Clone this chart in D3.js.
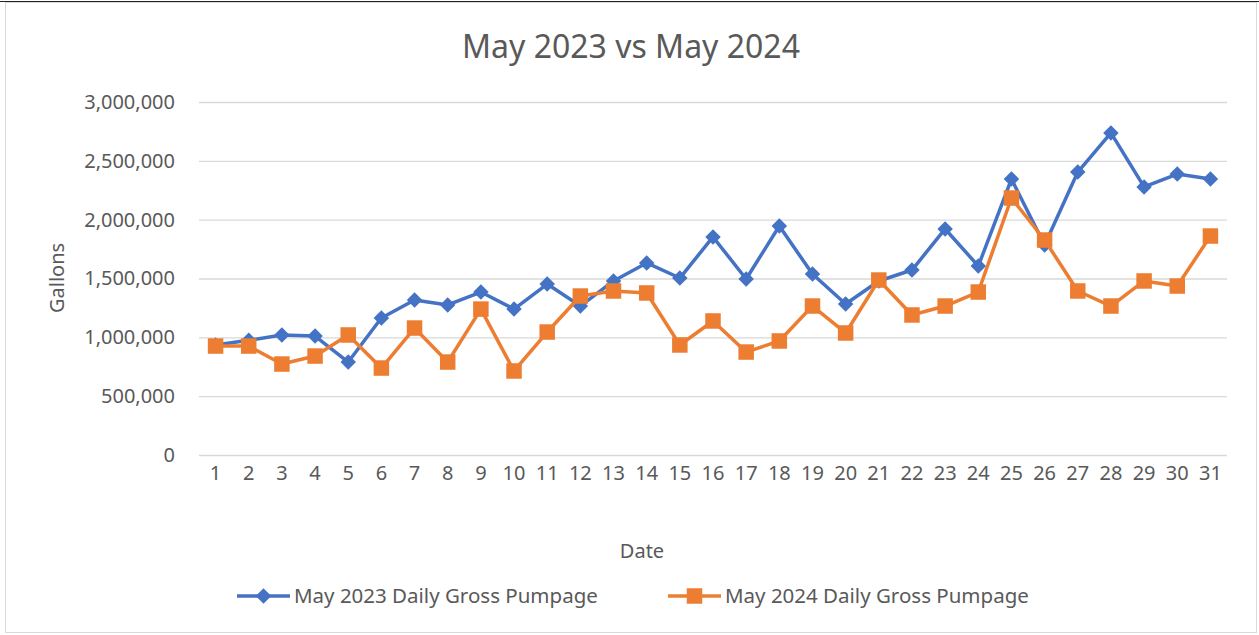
<!DOCTYPE html>
<html>
<head>
<meta charset="utf-8">
<script src="https://cdn.jsdelivr.net/npm/d3@7"></script>
<style>
  body { margin: 0; background: #fff; }
  text { font-family: "Noto Sans", "Open Sans", sans-serif; fill: #595959; }
</style>
</head>
<body>
<div id="chart"></div>
<script>
/* chart data */
var days = d3.range(1, 32);
var may2023 = [935000, 975000, 1020000, 1011000, 790000, 1164000, 1317000, 1275000, 1385000, 1240000,
  1453000, 1266000, 1479000, 1632000, 1504000, 1853000, 1496000, 1946000, 1538000, 1283000,
  1479000, 1572000, 1921000, 1606000, 2345000, 1785000, 2405000, 2737000, 2278000, 2388000, 2346000];
var may2024 = [926000, 926000, 773000, 841000, 1020000, 739000, 1079000, 790000, 1240000, 714000,
  1045000, 1351000, 1394000, 1377000, 935000, 1139000, 875000, 969000, 1266000, 1037000,
  1487000, 1190000, 1266000, 1385000, 2184000, 1827000, 1394000, 1266000, 1479000, 1436000, 1861000];
var yTicks = [0, 500000, 1000000, 1500000, 2000000, 2500000, 3000000];
var seriesNames = ["May 2023 Daily Gross Pumpage", "May 2024 Daily Gross Pumpage"];

var width = 1259, height = 635;
var plotLeft = 199, plotRight = 1227, plotTop = 102, plotBottom = 455;

var svg = d3.select("#chart").append("svg")
  .attr("width", width)
  .attr("height", height);

/* outer frame */
svg.append("rect")
  .attr("x", 5.5).attr("y", 2.5)
  .attr("width", width - 8).attr("height", height - 5)
  .attr("fill", "#fff")
  .attr("stroke", "#d9d9d9");
svg.append("line")
  .attr("x1", 0).attr("x2", width)
  .attr("y1", 1.5).attr("y2", 1.5)
  .attr("stroke", "#222");

/* scales */
var x = d3.scaleBand().domain(days).range([plotLeft, plotRight]);
var y = d3.scaleLinear().domain([0, 3000000]).range([plotBottom, plotTop]);

/* gridlines + y labels */
var yAxis = svg.append("g")
  .attr("transform", "translate(" + plotLeft + ",0)")
  .call(d3.axisLeft(y).tickValues(yTicks).tickSize(-(plotRight - plotLeft)).tickPadding(24)
    .tickFormat(d3.format(",")));
yAxis.select(".domain").remove();
yAxis.selectAll("line").attr("stroke", "#d9d9d9").attr("stroke-width", 1.3);
yAxis.selectAll("text").style("font-size", "20px").attr("fill", "#595959");

/* x labels */
var xAxis = svg.append("g")
  .attr("transform", "translate(0," + plotBottom + ")")
  .call(d3.axisBottom(x).tickSize(0).tickPadding(11));
xAxis.select(".domain").remove();
xAxis.selectAll("text").style("font-size", "20px").attr("fill", "#595959");

/* lines */
var line = d3.line()
  .x(function(d, i) { return x(days[i]) + x.bandwidth() / 2; })
  .y(function(d) { return y(d); });

var colors = ["#4472c4", "#ed7d31"];
var sizes = [120, 240];
var rotate = [45, 0]; // diamond = square turned 45 degrees

[may2023, may2024].forEach(function(values, k) {
  svg.append("path")
    .datum(values)
    .attr("fill", "none")
    .attr("stroke", colors[k])
    .attr("stroke-width", 3.5)
    .attr("stroke-linejoin", "round")
    .attr("d", line);

  svg.selectAll(".m" + k)
    .data(values)
    .enter().append("path")
      .attr("class", "m" + k)
      .attr("transform", function(d, i) {
        return "translate(" + (x(days[i]) + x.bandwidth() / 2) + "," + y(d) + ") rotate(" + rotate[k] + ")";
      })
      .attr("d", d3.symbol().type(d3.symbolSquare).size(sizes[k]))
      .attr("fill", colors[k]);
});

/* title and axis titles */
svg.append("text")
  .attr("x", 631).attr("y", 58)
  .attr("text-anchor", "middle")
  .style("font-size", "32px")
  .text("May 2023 vs May 2024");

svg.append("text")
  .attr("transform", "translate(64,278) rotate(-90)")
  .attr("text-anchor", "middle")
  .style("font-size", "20px")
  .text("Gallons");

svg.append("text")
  .attr("x", 642).attr("y", 558)
  .attr("text-anchor", "middle")
  .style("font-size", "20px")
  .text("Date");

/* legend */
var legendX = [237, 668];
seriesNames.forEach(function(name, k) {
  var g = svg.append("g").attr("transform", "translate(" + legendX[k] + ",596)");
  g.append("line")
    .attr("x1", 0).attr("x2", 53)
    .attr("stroke", colors[k]).attr("stroke-width", 3.5);
  g.append("path")
    .attr("transform", "translate(26.5,0) rotate(" + rotate[k] + ")")
    .attr("d", d3.symbol().type(d3.symbolSquare).size(sizes[k]))
    .attr("fill", colors[k]);
  g.append("text")
    .attr("x", 57).attr("y", 7)
    .style("font-size", "20.5px")
    .text(name);
});
</script>
</body>
</html>
